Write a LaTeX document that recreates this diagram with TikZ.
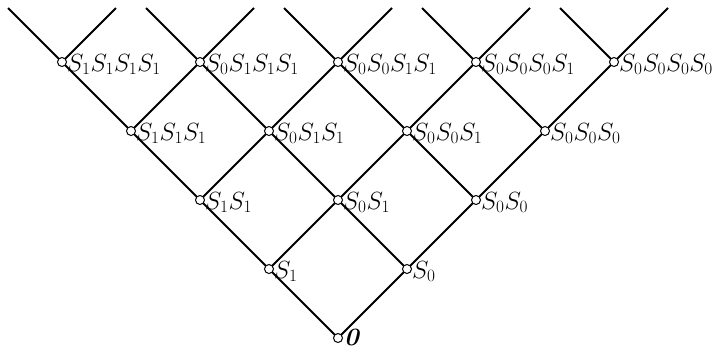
\documentclass[tikz,border=0pt]{standalone}
\usepackage{amsmath}
\usetikzlibrary{calc}
\begin{document}
\begin{tikzpicture}[x=1pt,y=-1pt,
  vtx/.style={circle,draw,fill=white,line width=1pt,inner sep=0pt,minimum size=9pt},
  lbl/.style={anchor=base west,inner sep=0pt,font=\fontsize{23}{27}\selectfont},
  edge/.style={line width=2pt}]
\useasboundingbox (0,0) rectangle (716,351);
% vertex coordinates: level k, index j -> x = 338-69k+138j, y = 338-69k
\foreach \k in {0,...,4}{
  \foreach \j in {0,...,\k}{
    \coordinate (p\k\j) at ({338-69*\k+138*\j},{338-69*\k});
  }
}
% top free ends
\foreach \j in {0,...,4}{
  \coordinate (tl\j) at ($(p4\j)+(-54,-54)$);
  \coordinate (tr\j) at ($(p4\j)+(54,-54)$);
}
% edges
\foreach \k/\kk in {0/1,1/2,2/3,3/4}{
  \foreach \j in {0,...,\k}{
    \pgfmathtruncatemacro{\jj}{\j+1}
    \draw[edge] (p\k\j) -- (p\kk\j);
    \draw[edge] (p\k\j) -- (p\kk\jj);
  }
}
\foreach \j in {0,...,4}{
  \draw[edge] (p4\j) -- (tl\j);
  \draw[edge] (p4\j) -- (tr\j);
}
% vertices
\foreach \k in {0,...,4}{
  \foreach \j in {0,...,\k}{
    \node[vtx] (v\k\j) at (p\k\j) {};
  }
}
% labels
\node[lbl] (l00) at ($(p00)+(6,7)$) {$\boldsymbol{\mathit{0}}$};
\node[lbl] (l10) at ($(p10)+(5,9)$) {$S_1$};
\node[lbl] (l11) at ($(p11)+(5,9)$) {$S_0$};
\node[lbl] (l20) at ($(p20)+(5,9)$) {$S_1S_1$};
\node[lbl] (l21) at ($(p21)+(5,9)$) {$S_0S_1$};
\node[lbl] (l22) at ($(p22)+(5,9)$) {$S_0S_0$};
\node[lbl] (l30) at ($(p30)+(5,9)$) {$S_1S_1S_1$};
\node[lbl] (l31) at ($(p31)+(5,9)$) {$S_0S_1S_1$};
\node[lbl] (l32) at ($(p32)+(5,9)$) {$S_0S_0S_1$};
\node[lbl] (l33) at ($(p33)+(5,9)$) {$S_0S_0S_0$};
\node[lbl] (l40) at ($(p40)+(5,9)$) {$S_1S_1S_1S_1$};
\node[lbl] (l41) at ($(p41)+(5,9)$) {$S_0S_1S_1S_1$};
\node[lbl] (l42) at ($(p42)+(5,9)$) {$S_0S_0S_1S_1$};
\node[lbl] (l43) at ($(p43)+(5,9)$) {$S_0S_0S_0S_1$};
\node[lbl] (l44) at ($(p44)+(5,9)$) {$S_0S_0S_0S_0$};
\end{tikzpicture}
\end{document}
